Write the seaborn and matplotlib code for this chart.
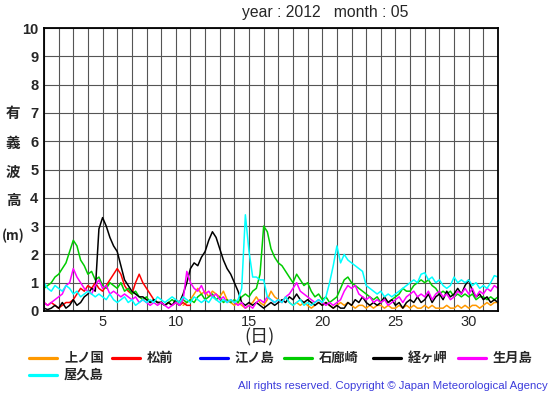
import numpy as np
import pandas as pd
import matplotlib
matplotlib.use("Agg")
import matplotlib.pyplot as plt
from matplotlib.lines import Line2D
import seaborn as sns

# =============== données (hauteur significative, toutes les 6 h) ===============
stations = ["上ノ国", "松前", "江ノ島", "石廊崎", "経ヶ岬", "生月島", "屋久島"]
colors = ["#ff9900", "#ff0000", "#0000ff", "#00cc00", "#000000", "#ff00ff", "#00ffff"]

# 上ノ国 (commence le 10 à 12 h)
kaminokuni = [0.2, 0.3,
              0.4, 0.6, 0.8, 0.6, 0.7, 0.5, 0.7, 0.6, 0.5, 0.7, 0.4, 0.3,
              0.2, 0.3, 0.2, 0.1, 0.2, 0.3, 0.5, 0.3, 0.2, 0.4, 0.7, 0.5,
              0.4, 0.3, 0.5, 0.3, 0.2, 0.3, 0.2, 0.3, 0.2, 0.1, 0.2, 0.3,
              0.2, 0.3, 0.2, 0.1, 0.2, 0.3, 0.2, 0.3, 0.2, 0.1, 0.2, 0.2,
              0.1, 0.2, 0.1, 0.2, 0.2, 0.1, 0.2, 0.1, 0.1, 0.2, 0.1, 0.2,
              0.1, 0.2, 0.1, 0.1, 0.2, 0.1, 0.2, 0.1, 0.1, 0.1, 0.2, 0.1,
              0.1, 0.2, 0.1, 0.2, 0.1, 0.2, 0.2, 0.1, 0.2, 0.3, 0.2, 0.3,
              0.3]
kaminokuni_start = 10.5

# 松前 (s'arrête le 10)
matsumae = [0.3, 0.2, 0.3, 0.2, 0.1, 0.2, 0.3, 0.3, 0.4, 0.6, 0.8, 0.7,
            0.9, 0.8, 1.0, 0.8, 0.7, 0.9, 1.1, 1.3, 1.5, 1.3, 0.9, 0.7,
            0.6, 1.0, 1.3, 1.0, 0.8, 0.6, 0.4, 0.3, 0.3, 0.2, 0.3, 0.2,
            0.3, 0.2, 0.3, 0.2, 0.2]
matsumae_start = 1.0

# 江ノ島 : pas de données
enoshima = []
enoshima_start = 1.0

irozaki = [0.8, 0.9, 1.0, 1.2, 1.3, 1.5, 1.7, 2.1, 2.5, 2.3, 1.8, 1.6,
           1.3, 1.4, 1.1, 1.2, 0.9, 0.8, 1.0, 0.9, 0.8, 1.0, 0.7, 0.8,
           0.6, 0.7, 0.5, 0.4, 0.5, 0.3, 0.4, 0.3, 0.3, 0.2, 0.3, 0.4,
           0.3, 0.2, 0.4, 0.3, 0.4, 0.3, 0.5, 0.6, 0.4, 0.5, 0.6, 0.4,
           0.5, 0.3, 0.4, 0.3, 0.4, 0.3, 0.5, 0.6, 0.5, 0.7, 0.8, 1.3,
           3.0, 2.8, 2.2, 1.9, 1.7, 1.6, 1.4, 1.2, 1.0, 1.3, 1.1, 0.9,
           1.0, 0.7, 0.5, 0.6, 0.4, 0.5, 0.3, 0.4, 0.5, 0.8, 1.1, 1.2,
           1.0, 0.9, 0.8, 0.7, 0.6, 0.5, 0.4, 0.5, 0.3, 0.4, 0.3, 0.4,
           0.5, 0.6, 0.8, 0.7, 0.7, 0.9, 1.0, 1.1, 1.0, 1.1, 0.9, 0.8,
           0.6, 0.7, 0.6, 0.7, 0.5, 0.6, 0.5, 0.6, 0.5, 0.6, 0.4, 0.5,
           0.5, 0.4, 0.5, 0.4, 0.5]
irozaki_start = 1.0

kyogamisaki = [0.1, 0.05, 0.1, 0.2, 0.1, 0.3, 0.1, 0.2, 0.4, 0.2, 0.3, 0.5,
               0.6, 0.8, 0.7, 2.9, 3.3, 3.0, 2.6, 2.3, 2.1, 1.6, 1.1, 0.9,
               0.7, 0.6, 0.5, 0.5, 0.4, 0.3, 0.4, 0.3, 0.3, 0.2, 0.3, 0.2,
               0.4, 0.3, 0.6, 1.0, 1.5, 1.7, 1.6, 1.9, 2.1, 2.5, 2.8, 2.6,
               2.2, 1.8, 1.5, 1.3, 1.0, 0.7, 0.3, 0.2, 0.3, 0.2, 0.3, 0.2,
               0.1, 0.2, 0.3, 0.2, 0.3, 0.4, 0.3, 0.5, 0.4, 0.6, 0.4, 0.3,
               0.4, 0.3, 0.2, 0.3, 0.2, 0.3, 0.2, 0.1, 0.2, 0.1, 0.1, 0.3,
               0.2, 0.4, 0.3, 0.5, 0.3, 0.2, 0.3, 0.2, 0.3, 0.5, 0.3, 0.4,
               0.2, 0.3, 0.1, 0.3, 0.4, 0.3, 0.5, 0.3, 0.4, 0.6, 0.3, 0.5,
               0.6, 0.4, 0.7, 0.5, 0.6, 0.8, 0.6, 0.9, 1.1, 0.7, 0.5, 0.6,
               0.4, 0.5, 0.3, 0.4, 0.3]
kyogamisaki_start = 1.0

ikitsuki = [0.3, 0.2, 0.3, 0.4, 0.5, 0.6, 0.9, 1.0, 1.5, 1.2, 1.0, 0.8,
            0.7, 0.6, 0.9, 1.1, 0.8, 0.9, 0.6, 0.7, 0.6, 0.5, 0.6, 0.5,
            0.4, 0.5, 0.3, 0.4, 0.3, 0.2, 0.3, 0.2, 0.3, 0.2, 0.1, 0.2,
            0.3, 0.2, 0.4, 1.4, 1.0, 0.8, 0.7, 0.9, 0.6, 0.7, 0.5, 0.6,
            0.4, 0.5, 0.3, 0.4, 0.3, 0.2, 0.3, 0.1, 0.2, 0.1, 0.3, 0.4,
            0.3, 0.5, 0.4, 0.3, 0.4, 0.3, 0.5, 0.6, 0.8, 1.0, 0.7, 0.6,
            0.5, 0.4, 0.3, 0.4, 0.3, 0.2, 0.3, 0.2, 0.3, 0.4, 0.7, 0.9,
            0.8, 0.9, 0.6, 0.5, 0.4, 0.5, 0.3, 0.4, 0.3, 0.4, 0.2, 0.3,
            0.4, 0.5, 0.3, 0.5, 0.6, 0.7, 0.5, 0.6, 0.5, 0.7, 0.4, 0.6,
            0.7, 0.5, 0.6, 0.4, 0.5, 0.7, 0.6, 0.8, 0.6, 0.8, 0.5, 0.7,
            0.6, 0.8, 0.7, 0.9, 0.8]
ikitsuki_start = 1.0

yakushima = [1.0, 0.8, 0.7, 0.9, 0.8, 0.7, 0.9, 0.8, 0.6, 0.7, 0.5, 0.6,
             0.7, 0.6, 0.5, 0.6, 0.5, 0.4, 0.6, 0.4, 0.3, 0.4, 0.5, 0.3,
             0.4, 0.2, 0.3, 0.4, 0.3, 0.4, 0.3, 0.5, 0.4, 0.3, 0.4, 0.5,
             0.4, 0.3, 0.5, 0.4, 0.3, 0.5, 0.4, 0.3, 0.4, 0.3, 0.5, 0.4,
             0.3, 0.4, 0.3, 0.4, 0.3, 0.4, 0.8, 3.4, 2.1, 1.2, 1.2, 1.1,
             1.1, 0.5, 0.4, 0.3, 0.4, 0.3, 0.5, 0.3, 0.2, 0.3, 0.4, 0.2,
             0.3, 0.2, 0.3, 0.4, 0.3, 0.5, 1.0, 1.6, 2.3, 1.7, 2.0, 1.8,
             1.7, 1.6, 1.5, 1.4, 0.9, 0.8, 0.7, 0.6, 0.7, 0.5, 0.6, 0.5,
             0.6, 0.7, 0.8, 0.9, 1.0, 1.1, 1.0, 1.3, 1.35, 1.1, 1.2, 1.0,
             1.1, 0.9, 0.8, 0.9, 1.2, 1.0, 1.1, 1.0, 1.1, 0.9, 1.0, 0.8,
             0.9, 0.8, 1.0, 1.25, 1.2]
yakushima_start = 1.0

series = [(kaminokuni, kaminokuni_start), (matsumae, matsumae_start),
          (enoshima, enoshima_start), (irozaki, irozaki_start),
          (kyogamisaki, kyogamisaki_start), (ikitsuki, ikitsuki_start),
          (yakushima, yakushima_start)]

rows = []
for name, (vals, start) in zip(stations, series):
    for i, v in enumerate(vals):
        rows.append({"day": start + i * 0.25, "wave": v, "station": name})
df = pd.DataFrame(rows)

# =============== figure ===============
sns.set_style("white")
plt.rcParams["font.family"] = ["Liberation Sans", "Noto Sans CJK JP", "DejaVu Sans"]
jp = ["Noto Sans CJK JP", "DejaVu Sans"]

fig = plt.figure(figsize=(5.55, 3.95), dpi=100)
ax = fig.add_axes([44 / 555, 1 - 311 / 395, 454 / 555, 283 / 395])

for name, col in zip(stations, colors):
    d = df[df["station"] == name]
    if len(d) == 0:
        continue
    sns.lineplot(data=d, x="day", y="wave", color=col, lw=1.1,
                 estimator=None, sort=False, ax=ax, legend=False)

ax.set_xlim(1, 32)
ax.set_ylim(0, 10)
ax.set_xticks([5, 10, 15, 20, 25, 30])
ax.set_xticks(np.arange(1, 33), minor=True)
ax.set_yticks(np.arange(0, 11))
ax.grid(True, which="both", color="#555555", lw=0.8)
ax.set_axisbelow(True)
ax.tick_params(axis="both", which="both", length=0)
ax.tick_params(axis="x", pad=3, labelsize=10.5)
ax.tick_params(axis="y", pad=4, labelsize=10.5)
for t in ax.get_yticklabels():
    t.set_fontweight("bold")
ax.set_xlabel("")
ax.set_ylabel("")
for s in ax.spines.values():
    s.set_color("black")
    s.set_linewidth(1.3)

fig.text(325 / 555, 1 - 13 / 395, "year : 2012   month : 05",
         ha="center", va="center", fontsize=11.3)

# étiquette verticale
for ch, yp, fs in zip(["有", "義", "波", "高", "(m)"], [113, 143, 172, 200, 236],
                      [10.5, 10.5, 10.5, 10.5, 9.5]):
    fig.text(13 / 555, 1 - yp / 395, ch, ha="center", va="center",
             fontsize=fs, fontweight="bold", family=jp)

fig.text(259 / 555, 1 - 337 / 395, "(日)", ha="center", va="center",
         fontsize=13, family=jp)

# légende manuelle
leg_pos = [(29, 358), (112, 358), (200, 358), (284, 358), (373, 358), (458, 358), (29, 375)]
for name, col, (lx, ly) in zip(stations, colors, leg_pos):
    fig.add_artist(Line2D([lx / 555, (lx + 28) / 555], [1 - ly / 395, 1 - ly / 395],
                          color=col, lw=2.3, transform=fig.transFigure))
    fig.text((lx + 35) / 555, 1 - ly / 395, name, ha="left", va="center",
             fontsize=9.5, fontweight="bold", family=jp)

fig.text(548 / 555, 1 - 386 / 395,
         "All rights reserved. Copyright © Japan Meteorological Agency",
         ha="right", va="center", fontsize=8.2, color="#3c3cdc")

fig.savefig("out.png", dpi=100)
